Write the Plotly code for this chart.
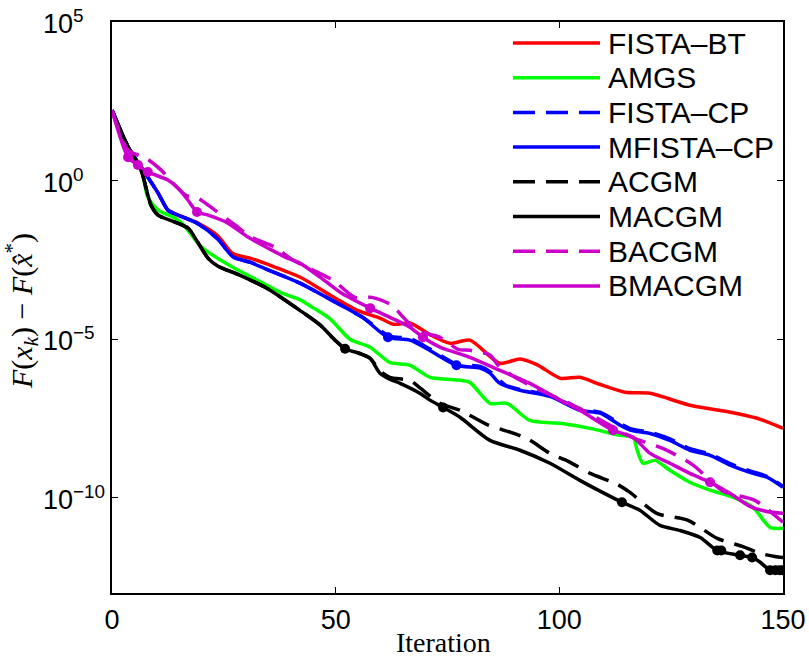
import math
import plotly.graph_objects as go

# ---------------- data (iteration, log10 of F(x_k)-F(x*)) ----------------
names = ["FISTA\u2013BT", "AMGS", "FISTA\u2013CP", "MFISTA\u2013CP", "ACGM", "MACGM", "BACGM", "BMACGM"]
colors = ["#ff0000", "#00ff00", "#0000ff", "#0000ff", "#000000", "#000000", "#cc00cc", "#cc00cc"]
dashes = ["solid", "solid", "dash", "solid", "dash", "solid", "dash", "solid"]

fista_bt_it = [0, 3.6, 6.5, 10.3, 12.5, 14.8, 19.2, 23.7, 27, 31, 35, 42, 49, 55, 60, 63, 66.6, 71, 75.6, 80,
               86.7, 91.2, 95, 100.2, 104.6, 109, 114.7, 120.3, 125, 129.2, 134, 138.2, 144.2, 150]
fista_bt_lg = [2.22, 1.06, 0.43, -0.39, -0.93, -1.09, -1.34, -1.75, -2.30, -2.45, -2.65, -3.04, -3.63, -4.10,
               -4.34, -4.53, -4.49, -4.85, -5.13, -5.03, -5.76, -5.62, -5.80, -6.23, -6.20, -6.42, -6.67, -6.70,
               -6.90, -7.08, -7.20, -7.30, -7.49, -7.81]

amgs_it = [0, 3.6, 6.5, 8, 10.3, 14.1, 16, 19.7, 22, 27, 32, 38, 42, 44.3, 48.7, 53.2, 57.7, 62.1, 66.6, 71.1,
           77.8, 80, 84.5, 88.3, 93.4, 100.2, 106.9, 113.6, 116.5, 117.4, 118.7, 121.4, 124.7, 129.2, 133.7,
           138.8, 143.3, 147.1, 150]
amgs_lg = [2.22, 1.06, 0.40, -0.52, -0.93, -1.18, -1.40, -2.05, -2.30, -2.73, -3.10, -3.55, -3.75, -3.95,
           -4.35, -5.00, -5.25, -5.73, -5.82, -6.20, -6.29, -6.36, -7.02, -7.02, -7.56, -7.65, -7.81, -8.03,
           -8.09, -8.50, -8.91, -8.82, -9.13, -9.51, -9.76, -9.98, -10.30, -10.93, -10.96]

fista_cp_it = [0, 3.6, 6.5, 10.3, 12.5, 14.8, 19.2, 23.7, 27, 31, 35, 42, 49, 56, 62, 66.6, 71, 77, 82.3, 84.5,
               88, 91.2, 97.9, 104.6, 109.1, 113.6, 116, 120.3, 124.7, 129.2, 133.7, 138.2, 142.6, 146.4, 150]
fista_cp_lg = [2.22, 1.06, 0.43, -0.39, -0.93, -1.09, -1.36, -1.85, -2.40, -2.58, -2.82, -3.23, -3.76, -4.31,
               -4.90, -4.98, -5.30, -5.78, -5.86, -6.02, -6.45, -6.58, -6.78, -7.20, -7.30, -7.66, -7.83, -7.93,
               -8.14, -8.45, -8.62, -8.92, -9.15, -9.32, -9.64]

mfista_cp_it = [0, 3.6, 6.5, 10.3, 12.5, 14.8, 19.2, 23.7, 27, 31, 35, 42, 49, 56, 61.7, 66.6, 71, 77, 82.3,
                84.5, 86.7, 91.2, 97.9, 104.6, 109.1, 113.6, 116, 120.3, 124.7, 129.2, 133.7, 138.2, 142.6,
                146.4, 150]
mfista_cp_lg = [2.22, 1.06, 0.43, -0.39, -0.93, -1.09, -1.36, -1.85, -2.40, -2.58, -2.82, -3.23, -3.76, -4.31,
                -4.94, -5.03, -5.35, -5.82, -5.91, -6.07, -6.39, -6.61, -6.80, -7.24, -7.33, -7.71, -7.87, -7.97,
                -8.19, -8.50, -8.66, -8.97, -9.20, -9.35, -9.67]

acgm_it = [0, 3.6, 6.5, 8.7, 10.3, 14.1, 17, 19.2, 21.5, 23.7, 28, 34.6, 42, 46.5, 50, 52.1, 55.4, 57.7, 59.9,
           62.1, 66.6, 69, 73.3, 77.8, 84, 89, 93, 97.9, 102, 106.9, 112.9, 115.8, 121.8, 128.8, 135.3, 140.9,
           144.9, 148.2, 150]
acgm_lg = [2.22, 1.06, 0.33, -0.77, -1.09, -1.31, -1.50, -1.95, -2.45, -2.70, -2.95, -3.39, -4.09, -4.55, -5.05,
           -5.30, -5.45, -5.60, -6.00, -6.20, -6.30, -6.55, -7.02, -7.24, -7.70, -7.93, -8.15, -8.60, -8.85,
           -9.23, -9.57, -9.83, -10.49, -10.71, -11.28, -11.53, -11.75, -11.85, -11.88]

macgm_it = [0, 3.6, 6.5, 8.7, 10.3, 14.1, 17, 19.2, 21.5, 23.7, 28, 34.6, 42, 46.5, 50, 52.1, 55.4, 57.7, 59.9,
            62.1, 64.4, 68.8, 71.1, 74, 77.8, 84.5, 91.2, 97.9, 104.6, 109.1, 114, 118, 122.5, 127, 131.5,
            135.3, 140.4, 143.1, 144.9, 147.1, 150]
macgm_lg = [2.22, 1.06, 0.33, -0.77, -1.09, -1.31, -1.50, -1.95, -2.45, -2.70, -2.95, -3.39, -4.09, -4.55,
            -5.05, -5.30, -5.45, -5.60, -6.07, -6.26, -6.39, -6.70, -6.92, -7.15, -7.46, -8.19, -8.50, -8.91,
            -9.45, -9.79, -10.14, -10.39, -10.87, -11.03, -11.25, -11.66, -11.81, -11.88, -12.03, -12.28, -12.28]

bacgm_it = [0, 3.6, 7.6, 11, 13.6, 16.5, 19.2, 23, 27.5, 31.1, 36.4, 40.5, 44.9, 49.4, 54.3, 58.1, 62.6, 65.1,
            68.2, 73.3, 77.4, 80, 84.5, 86.3, 90.1, 95.7, 103.1, 111.3, 116.2, 123.6, 129.9, 136.6, 143.7, 150]
bacgm_lg = [2.22, 0.96, 0.71, 0.33, -0.08, -0.46, -0.55, -0.93, -1.40, -1.78, -2.10, -2.51, -2.82, -3.14,
            -3.68, -3.68, -3.93, -4.31, -4.72, -4.94, -5.32, -5.35, -5.50, -5.82, -6.20, -6.61, -7.08, -7.71,
            -8.09, -8.47, -8.97, -9.79, -10.08, -10.77]

bmacgm_it = [0, 3.6, 5.8, 8, 12.5, 14.8, 17, 19, 21.5, 25.9, 30.4, 34.9, 38.7, 42, 46.5, 51, 57.7, 62.1, 66.6,
             69.5, 73.3, 80, 86.7, 93.4, 100.2, 104.6, 112, 116.5, 120.3, 124.7, 129.2, 133.7, 138.2, 142.6,
             146.4, 150]
bmacgm_lg = [2.22, 0.74, 0.49, 0.27, 0.02, -0.24, -0.62, -0.99, -1.09, -1.34, -1.78, -2.13, -2.41, -2.60,
             -3.04, -3.52, -4.02, -4.31, -4.62, -4.94, -5.25, -5.57, -5.98, -6.39, -6.92, -7.24, -7.87, -8.09,
             -8.60, -8.91, -9.23, -9.51, -9.86, -10.27, -10.43, -10.49]

# restart markers (iteration, log10 value)
mfista_mk_it = [61.7, 77]
mfista_mk_lg = [-4.94, -5.82]
macgm_mk_it = [52.1, 74, 114, 135.3, 136.2, 140.4, 143.1, 147.1, 148.3, 149.3, 150]
macgm_mk_lg = [-5.30, -7.15, -10.14, -11.66, -11.66, -11.81, -11.88, -12.28, -12.28, -12.28, -12.28]
bmacgm_mk_it = [3.6, 5.8, 8, 19, 57.7, 69.5, 112, 133.7]
bmacgm_mk_lg = [0.74, 0.49, 0.27, -0.99, -4.02, -4.94, -7.87, -9.51]

x_ticks = [0, 50, 100, 150]
y_tick_vals = [1e-10, 1e-5, 1e0, 1e5]
y_tick_text = ["10<sup>\u221210</sup>", "10<sup>\u22125</sup>", "10<sup>0</sup>", "10<sup>5</sup>"]

series_it = [fista_bt_it, amgs_it, fista_cp_it, mfista_cp_it, acgm_it, macgm_it, bacgm_it, bmacgm_it]
series_lg = [fista_bt_lg, amgs_lg, fista_cp_lg, mfista_cp_lg, acgm_lg, macgm_lg, bacgm_lg, bmacgm_lg]

DASH = "22px,11px"
fig = go.Figure()
for name, col, ds, xs, ls in zip(names, colors, dashes, series_it, series_lg):
    fig.add_trace(go.Scatter(
        x=xs, y=[10 ** v for v in ls], mode="lines", name=name, showlegend=False,
        line=dict(color=col, width=3.5, dash=(DASH if ds == "dash" else "solid"), shape="spline", smoothing=0.7)))

for xs, ls, col in [(mfista_mk_it, mfista_mk_lg, "#0000ff"), (macgm_mk_it, macgm_mk_lg, "#000000"),
                    (bmacgm_mk_it, bmacgm_mk_lg, "#cc00cc")]:
    fig.add_trace(go.Scatter(x=xs, y=[10 ** v for v in ls], mode="markers", showlegend=False,
                             marker=dict(color=col, size=10, symbol="circle")))

# ---------------- layout ----------------
L, R, T, B = 112, 26, 22, 64
W, H = 809, 657
pw, ph = W - L - R, H - T - B

def px2paper_x(px):
    return (px - L) / pw

def py2paper_y(py):
    return (H - B - py) / ph

shapes = []
annotations = []
row0, step = 43, 34.7
for i, (name, col, ds) in enumerate(zip(names, colors, dashes)):
    yy = py2paper_y(row0 + i * step)
    shapes.append(dict(type="line", xref="paper", yref="paper", x0=px2paper_x(513), x1=px2paper_x(600),
                       y0=yy, y1=yy, line=dict(color=col, width=3.5, dash=(DASH if ds == "dash" else "solid"))))
    annotations.append(dict(xref="paper", yref="paper", x=px2paper_x(606), y=yy, text=name, showarrow=False,
                            xanchor="left", yanchor="middle",
                            font=dict(family="Liberation Sans", size=30, color="black")))

# y tick labels: MATLAB style, "10" bases left-aligned
for v, t in zip(y_tick_vals, y_tick_text):
    annotations.append(dict(xref="paper", yref="y", x=px2paper_x(41), y=math.log10(v), text=t, showarrow=False,
                            xanchor="left", yanchor="middle",
                            font=dict(family="Liberation Sans", size=27, color="black")))

annotations.append(dict(xref="paper", yref="paper", x=px2paper_x(443), y=py2paper_y(642), text="Iteration",
                        showarrow=False, xanchor="center", yanchor="middle",
                        font=dict(family="Liberation Serif", size=28, color="black")))
annotations.append(dict(xref="paper", yref="paper", x=px2paper_x(21), y=py2paper_y(311),
                        text="<i>F</i>(<i>x</i><sub><i>k</i></sub>) \u2212 <i>F</i>(<i>x\u0302</i><sup>*</sup>)",
                        textangle=-90, showarrow=False, xanchor="center", yanchor="middle",
                        font=dict(family="Liberation Serif", size=30, color="black")))

fig.update_layout(
    width=W, height=H, margin=dict(l=L, r=R, t=T, b=B, autoexpand=False),
    paper_bgcolor="white", plot_bgcolor="white", showlegend=False,
    shapes=shapes, annotations=annotations,
    font=dict(family="Liberation Sans", size=27, color="black"),
)
fig.update_xaxes(range=[0, 150], tickvals=x_ticks, ticks="inside", ticklen=6, tickwidth=1, tickcolor="black",
                 showline=True, linecolor="black", linewidth=1.5, mirror="ticks", showgrid=False, zeroline=False,
                 automargin=False, ticklabelstandoff=2,
                 tickfont=dict(family="Liberation Sans", size=27, color="black"))
fig.update_yaxes(type="log", range=[-13, 5], tickvals=y_tick_vals, showticklabels=False, ticks="inside",
                 ticklen=6, tickwidth=1, tickcolor="black", showline=True, linecolor="black", linewidth=1.5,
                 mirror="ticks", showgrid=False, zeroline=False, automargin=False)

fig.write_html("out.html")
